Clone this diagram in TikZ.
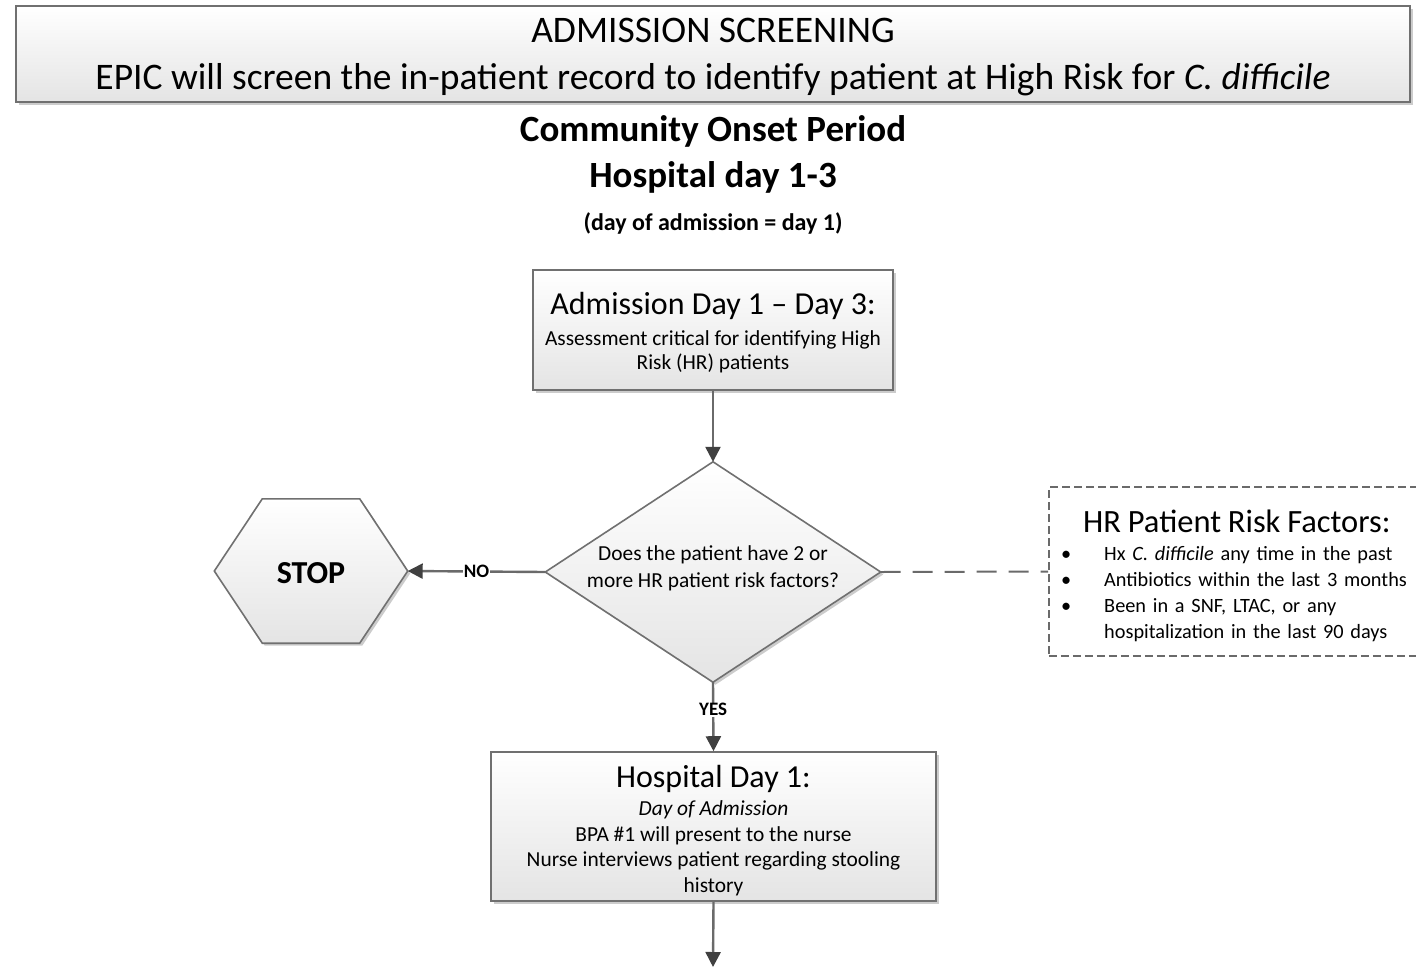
\documentclass[tikz,border=0pt]{standalone}
\usepackage{fontspec}
\setmainfont{Carlito}
\usetikzlibrary{shapes.geometric,arrows.meta,shadows,calc}
\definecolor{edgec}{HTML}{707070}
\definecolor{linec}{HTML}{6A6A6A}
\definecolor{tipc}{HTML}{404040}
\definecolor{boxbot}{HTML}{E4E4E4}
\newcommand\fsz[2]{\fontsize{#1}{#2}\selectfont}
\tikzset{
  shadowed/.style={drop shadow={shadow xshift=2.5pt,shadow yshift=-2.5pt,opacity=.2,fill=black}},
  boxstyle/.style={draw=edgec, line width=1.6pt, top color=white, bottom color=boxbot, shadowed, inner sep=0pt},
  txt/.style={inner sep=0pt, align=center},
  conn/.style={draw=linec, line width=2.4pt, -{Triangle[length=15pt,width=15pt,color=tipc]}},
  lbl/.style={fill=white, inner sep=1pt, font=\fsz{19}{22}\bfseries},
  heading/.style={font=\fsz{37}{40}\bfseries, inner sep=0pt},
}
\begin{document}
\begin{tikzpicture}[x=1pt,y=-1pt]
\clip (0,0) rectangle (1416,967);
\fill[white] (0,0) rectangle (1416,967);

% top banner
\node[boxstyle, minimum width=1394pt, minimum height=96pt] (top) at (713,54) {};
\node[txt, font=\fsz{37.5}{47}] (toptext) at (713,57)
  {ADMISSION SCREENING\\EPIC will screen the in-patient record to identify patient at High Risk for \textit{C. difficile}};

% headings
\node[heading] (h1) at (713,131) {Community Onset Period};
\node[heading] (h2) at (713,177) {Hospital day 1-3};
\node[font=\fsz{24}{26}\bfseries, inner sep=0pt] (h3) at (713,223) {(day of admission = day 1)};

% box 1
\node[boxstyle, minimum width=360pt, minimum height=120pt] (adm) at (713,330) {};
\node[txt, font=\fsz{21.4}{24}] (admtext) at (713,333)
  {{\fsz{32}{36}Admission Day 1 -- Day 3:}\\[7pt]Assessment critical for identifying High\\Risk (HR) patients};

% decision diamond
\node[minimum width=335pt, minimum height=220pt, inner sep=0pt] (dec) at (713,572) {};
\path[boxstyle] (dec.north) -- (dec.east) -- (dec.south) -- (dec.west) -- cycle;
\node[txt, font=\fsz{21.4}{27}, text depth=10pt] (dectext) at (dec.center)
  {Does the patient have 2 or\\more HR patient risk factors?};

% STOP hexagon
\node[minimum width=193pt, minimum height=144pt, inner sep=0pt] (stop) at (311,571) {};
\path[boxstyle] (stop.west) -- ([xshift=48pt]stop.north west) -- ([xshift=-48pt]stop.north east)
  -- (stop.east) -- ([xshift=-48pt]stop.south east) -- ([xshift=48pt]stop.south west) -- cycle;
\node[font=\fsz{32}{34}\bfseries, inner sep=0pt] (stoptext) at ([yshift=-2pt]stop.center) {STOP};

% box 2
\node[boxstyle, minimum width=445pt, minimum height=149pt] (hd1) at (713.5,826.5) {};
\node[txt, font=\fsz{21.4}{25.5}] (hd1text) at (713.5,830.5)
  {{\fsz{32}{36}Hospital Day 1:}\\[3pt]\textit{Day of Admission}\\BPA \#1 will present to the nurse\\Nurse interviews patient regarding stooling\\history};

% risk factors box
\node[draw=linec, line width=1.6pt, dash pattern=on 8pt off 4pt, anchor=west,
      minimum height=169pt, minimum width=400pt, inner sep=0pt] (risk) at (1048,571.5) {};
\node[anchor=west, text width=362pt, inner sep=0pt, align=left, font=\fsz{20.3}{26}]
  (risktext) at (1061,575.5) {%
  \hspace*{22pt}{\fsz{32.5}{30}HR Patient Risk Factors:}\par\vspace{2pt}
  \makebox[43pt][l]{\textbullet}Hx \textit{C. difficile} any time in the past\par
  \makebox[43pt][l]{\textbullet}Antibiotics within the last 3 months\par
  \makebox[43pt][l]{\textbullet}Been in a SNF, LTAC, or any\par
  \hspace*{43pt}hospitalization in the last 90 days};

% connectors
\coordinate (bottomend) at (713,967);
\draw[conn] (adm.south) -- (dec.north);
\draw[conn] (dec.west) -- node[lbl, pos=0.5] (nolbl) {NO} (stop.east);
\draw[conn] (dec.south) -- node[lbl, pos=0.4] (yeslbl) {YES} (hd1.north);
\draw[conn] (hd1.south) -- (bottomend);
\draw[draw=linec, line width=2pt, dash pattern=on 20pt off 12pt] (dec.east) -- (risk.west);
\end{tikzpicture}
\end{document}
